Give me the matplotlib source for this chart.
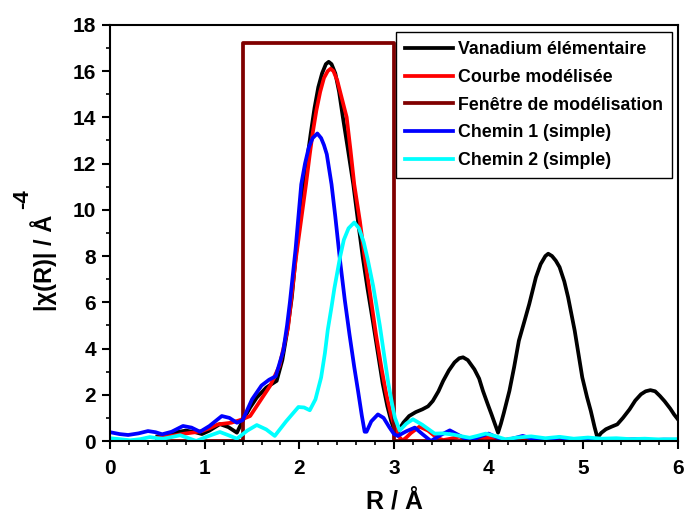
import matplotlib
matplotlib.use("Agg")
import matplotlib.pyplot as plt
from matplotlib.ticker import MultipleLocator

plt.rcParams['font.family'] = ['Liberation Sans', 'DejaVu Sans']
plt.rcParams['font.weight'] = 'bold'

# Vanadium élémentaire
r_v = [0.50, 0.60, 0.70, 0.80, 0.90, 0.97, 1.05, 1.16, 1.25, 1.34, 1.40, 1.48, 1.55,
       1.65, 1.76, 1.82, 1.87, 1.92, 1.96, 2.00, 2.05, 2.09, 2.12, 2.16, 2.20, 2.24,
       2.28, 2.31, 2.34, 2.38, 2.42, 2.46, 2.51, 2.57, 2.62, 2.67, 2.72, 2.78, 2.83,
       2.88, 2.93, 2.97, 3.01, 3.04, 3.07, 3.10, 3.16, 3.23, 3.30, 3.36, 3.41, 3.47,
       3.52, 3.58, 3.64, 3.69, 3.73, 3.78, 3.85, 3.90, 3.94, 3.99, 4.03, 4.07, 4.10,
       4.13, 4.16, 4.22, 4.27, 4.32, 4.38, 4.43, 4.50, 4.55, 4.60, 4.63, 4.67, 4.71,
       4.75, 4.80, 4.84, 4.91, 4.99, 5.04, 5.08, 5.12, 5.15, 5.19, 5.24, 5.30, 5.36,
       5.42, 5.49, 5.55, 5.61, 5.66, 5.71, 5.76, 5.81, 5.86, 5.92, 5.96, 6.00]
chi_v = [0.20, 0.25, 0.38, 0.45, 0.38, 0.30, 0.45, 0.73, 0.60, 0.36, 0.87, 1.45, 1.88,
         2.31, 2.60, 3.50, 4.70, 6.20, 7.90, 9.50, 11.1, 12.4, 13.3, 14.4, 15.3, 15.9,
         16.3, 16.4, 16.3, 15.9, 15.1, 14.0, 12.7, 11.1, 9.50, 7.95, 6.60, 5.10, 3.80,
         2.50, 1.50, 0.87, 0.40, 0.35, 0.60, 0.80, 1.08, 1.25, 1.37, 1.50, 1.73, 2.15,
         2.60, 3.05, 3.40, 3.58, 3.62, 3.50, 3.10, 2.70, 2.17, 1.60, 1.16, 0.70, 0.36,
         0.75, 1.20, 2.17, 3.20, 4.34, 5.20, 5.93, 7.08, 7.65, 8.00, 8.10, 8.00, 7.80,
         7.52, 6.90, 6.22, 4.77, 2.75, 1.90, 1.30, 0.60, 0.14, 0.35, 0.51, 0.62, 0.72,
         1.00, 1.37, 1.75, 2.02, 2.15, 2.20, 2.15, 1.95, 1.72, 1.40, 1.15, 0.94]

# Courbe modélisée
r_fit = [0.50, 0.55, 0.65, 0.79, 0.90, 0.97, 1.05, 1.14, 1.28, 1.37, 1.48, 1.58, 1.69,
         1.79, 1.88, 1.96, 2.02, 2.07, 2.11, 2.14, 2.18, 2.22, 2.26, 2.30, 2.33, 2.36,
         2.40, 2.45, 2.50, 2.54, 2.58, 2.64, 2.69, 2.75, 2.81, 2.87, 2.92, 2.97, 3.01,
         3.05, 3.09, 3.13, 3.18, 3.27, 3.36, 3.45, 3.52, 3.60, 3.69, 3.78, 3.86, 3.95,
         4.05, 4.15, 4.25, 4.35, 4.50, 4.70, 4.90, 5.10, 5.30, 5.50, 5.70, 5.90, 6.00]
chi_fit = [0.15, 0.17, 0.22, 0.32, 0.38, 0.43, 0.55, 0.72, 0.79, 0.90, 1.08, 1.70, 2.38,
           3.25, 4.90, 7.80, 9.60, 11.1, 12.4, 13.3, 14.3, 15.1, 15.7, 16.0, 16.1, 16.0,
           15.6, 14.8, 14.0, 12.6, 11.1, 9.50, 7.95, 6.30, 4.60, 3.10, 2.00, 1.10, 0.58,
           0.20, 0.02, 0.15, 0.35, 0.62, 0.45, 0.15, 0.04, 0.10, 0.19, 0.08, 0.04, 0.15,
           0.12, 0.04, 0.10, 0.08, 0.05, 0.08, 0.04, 0.06, 0.03, 0.05, 0.03, 0.04, 0.03]

# Fenêtre de modélisation
r_win = [0.50, 1.40, 1.40, 3.00, 3.00, 6.00]
chi_win = [0.0, 0.0, 17.2, 17.2, 0.0, 0.0]

# Chemin 1 (simple)
r_c1 = [0.00, 0.10, 0.19, 0.30, 0.40, 0.48, 0.55, 0.65, 0.77, 0.86, 0.95, 1.05, 1.18,
        1.26, 1.34, 1.40, 1.50, 1.60, 1.68, 1.75, 1.83, 1.87, 1.90, 1.96, 2.02, 2.06,
        2.10, 2.14, 2.19, 2.23, 2.26, 2.29, 2.34, 2.38, 2.43, 2.48, 2.53, 2.58, 2.62,
        2.66, 2.69, 2.71, 2.76, 2.83, 2.89, 2.95, 3.00, 3.04, 3.13, 3.22, 3.30, 3.39,
        3.49, 3.59, 3.70, 3.80, 3.90, 4.00, 4.09, 4.18, 4.27, 4.36, 4.46, 4.56, 4.66,
        4.75, 4.85, 4.95, 5.05, 5.14, 5.25, 5.35, 5.45, 5.55, 5.65, 5.75, 5.85, 6.00]
chi_c1 = [0.38, 0.30, 0.26, 0.33, 0.43, 0.38, 0.29, 0.40, 0.65, 0.58, 0.40, 0.65, 1.08,
          1.00, 0.79, 0.90, 1.80, 2.40, 2.65, 2.80, 3.90, 5.00, 6.00, 8.30, 11.1, 12.0,
          12.7, 13.1, 13.3, 13.1, 12.8, 12.4, 11.1, 9.70, 7.80, 6.10, 4.60, 3.20, 2.17,
          1.10, 0.40, 0.40, 0.85, 1.15, 1.00, 0.60, 0.30, 0.22, 0.42, 0.58, 0.30, 0.00,
          0.25, 0.46, 0.22, 0.00, 0.18, 0.32, 0.15, 0.02, 0.12, 0.22, 0.10, 0.03, 0.10,
          0.15, 0.07, 0.02, 0.07, 0.10, 0.05, 0.03, 0.06, 0.08, 0.05, 0.04, 0.06, 0.05]

# Chemin 2 (simple)
r_c2 = [0.00, 0.10, 0.21, 0.32, 0.42, 0.50, 0.56, 0.65, 0.74, 0.83, 0.91, 1.03, 1.16,
        1.25, 1.34, 1.45, 1.55, 1.65, 1.74, 1.86, 1.99, 2.05, 2.11, 2.17, 2.23, 2.27,
        2.30, 2.34, 2.37, 2.43, 2.47, 2.52, 2.58, 2.63, 2.68, 2.72, 2.78, 2.85, 2.90,
        2.94, 2.98, 3.01, 3.06, 3.13, 3.20, 3.30, 3.43, 3.52, 3.62, 3.72, 3.80, 3.88,
        3.97, 4.08, 4.18, 4.30, 4.45, 4.60, 4.75, 4.90, 5.05, 5.20, 5.35, 5.50, 5.65,
        5.80, 6.00]
chi_c2 = [0.12, 0.08, 0.03, 0.08, 0.17, 0.12, 0.10, 0.17, 0.25, 0.12, 0.00, 0.20, 0.39,
          0.25, 0.10, 0.45, 0.69, 0.50, 0.22, 0.85, 1.47, 1.45, 1.33, 1.80, 2.75, 3.80,
          4.80, 5.80, 6.60, 7.95, 8.70, 9.20, 9.45, 9.20, 8.60, 7.90, 6.70, 5.00, 3.60,
          2.50, 1.60, 1.00, 0.45, 0.75, 0.94, 0.70, 0.32, 0.33, 0.28, 0.20, 0.14, 0.22,
          0.32, 0.20, 0.07, 0.15, 0.20, 0.12, 0.18, 0.10, 0.15, 0.10, 0.12, 0.08, 0.10,
          0.07, 0.08]

fig = plt.figure(figsize=(6.84, 5.17), dpi=100)
ax = fig.add_axes([0.161, 0.147, 0.830, 0.805])

lw = 2.7
ax.plot(r_v, chi_v, color='black', lw=lw, label='Vanadium élémentaire')
ax.plot(r_fit, chi_fit, color='#ff0000', lw=lw, label='Courbe modélisée')
ax.plot(r_win, chi_win, color='#800000', lw=lw, label='Fenêtre de modélisation')
ax.plot(r_c1, chi_c1, color='#0000ff', lw=lw, label='Chemin 1 (simple)')
ax.plot(r_c2, chi_c2, color='#00ffff', lw=lw, label='Chemin 2 (simple)')

ax.set_xlim(0, 6)
ax.set_ylim(0, 18)
ax.xaxis.set_major_locator(MultipleLocator(1))
ax.xaxis.set_minor_locator(MultipleLocator(0.2))
ax.yaxis.set_major_locator(MultipleLocator(2))
ax.yaxis.set_minor_locator(MultipleLocator(1))
ax.tick_params(which='major', direction='out', length=6, width=1.5, labelsize=15)
ax.tick_params(axis='x', which='major', pad=7)
ax.tick_params(axis='y', which='major', pad=4)
ax.tick_params(which='minor', direction='out', length=3, width=1.2)
for s in ax.spines.values():
    s.set_linewidth(1.5)

ax.set_xlabel('R / Å', fontsize=18, fontweight='bold', labelpad=8)
# y label: main part plus a full-size superscript
fig.text(57 / 684, 1 - 263 / 517, '|χ(R)| / Å', rotation=90, fontsize=17,
         fontweight='bold', ha='right', va='center')
fig.text(23 / 684, 1 - 199 / 517, '-4', rotation=90, fontsize=16,
         fontweight='bold', ha='center', va='center')

leg = ax.legend(loc='upper right', bbox_to_anchor=(0.989, 0.982), fontsize=12.8,
                frameon=True, fancybox=False, edgecolor='black', framealpha=1,
                handlelength=2.7, handletextpad=0.25, labelspacing=0.6,
                borderpad=0.5, borderaxespad=0)
leg.get_frame().set_linewidth(1.0)
for t in leg.get_texts():
    t.set_fontweight('bold')

fig.savefig('out.png', dpi=100)
